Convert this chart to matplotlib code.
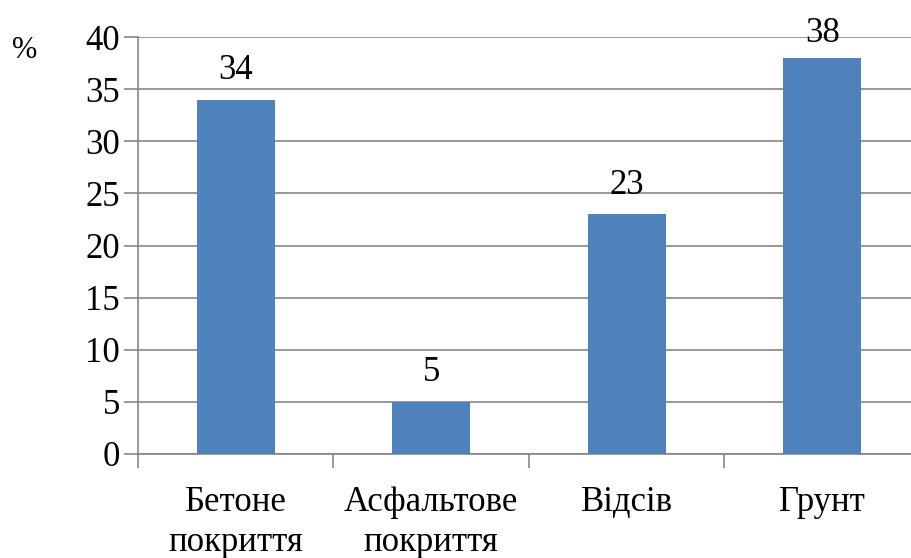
import numpy as np
from matplotlib import pyplot as plt

categories = ["Бетоне\nпокриття", "Асфальтове\nпокриття", "Відсів", "Грунт"]
values = [34, 5, 23, 38]

plt.rcParams['font.family'] = ['Liberation Serif', 'DejaVu Serif']
plt.rcParams['font.size'] = 25

fig = plt.figure(figsize=(9.12, 5.58), dpi=100)
ax = fig.add_axes([138/912, 104/558, 782/912, 417/558])

x = np.arange(len(categories))
bars = ax.bar(x, values, width=0.4, color="#4F81BD", zorder=3)

ax.set_ylim(0, 40)
ax.set_xlim(-0.5, len(categories) - 0.5)
ax.set_yticks(np.arange(0, 41, 5))
ax.yaxis.grid(True, color="#868686", linewidth=1.2, zorder=0)

ax.set_xticks(np.arange(-0.5, len(categories), 1.0))
ax.set_xticklabels([])
ax.set_xticks(x, minor=True)
ax.set_xticklabels(categories, minor=True, linespacing=1.3)
ax.tick_params(axis="x", which="minor", length=0, pad=23)
ax.tick_params(axis="x", which="major", length=10, color="#868686", width=1.2)
ax.tick_params(axis="y", length=10, color="#868686", width=1.2, pad=3)

for s in ["top", "right"]:
    ax.spines[s].set_visible(False)
for s in ["left", "bottom"]:
    ax.spines[s].set_color("#868686")
    ax.spines[s].set_linewidth(1.2)

for b, v in zip(bars, values):
    # label near the top edge gets pulled down inside the plot
    off = 6 if v > 36 else 9
    ax.annotate(str(v), (b.get_x() + b.get_width() / 2, v), xytext=(0, off),
                textcoords="offset points", ha="center", va="bottom")

fig.text(12/912, 1 - 50/558, "%", fontsize=22, ha="left", va="center")

fig.savefig("out.png", dpi=100)
